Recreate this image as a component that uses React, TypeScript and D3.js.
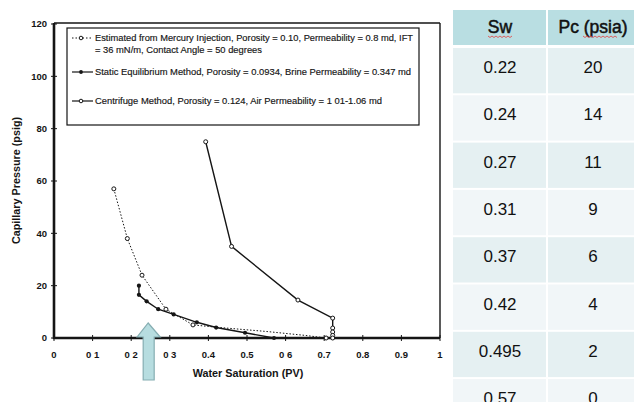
import React from "react";
import * as d3 from "d3";

// Capillary pressure curves (Sw in PV, Pc in psig)
const mercurySw = [0.155, 0.19, 0.228, 0.29, 0.36, 0.43, 0.55, 0.65, 0.705];
const mercuryPc = [57, 38, 24, 11, 5, 4, 2.5, 1, 0];

const staticSw = [0.22, 0.22, 0.24, 0.27, 0.31, 0.37, 0.42, 0.495, 0.57];
const staticPc = [20, 16.5, 14, 11, 9, 6, 4, 2, 0];

const centrifugeSw = [0.393, 0.46, 0.632, 0.722, 0.722, 0.722, 0.722, 0.722];
const centrifugePc = [75, 35, 14.5, 7.6, 3.8, 2.3, 1, 0];

const xTicks = [0, 0.1, 0.2, 0.3, 0.4, 0.5, 0.6, 0.7, 0.8, 0.9, 1];
const xTickLabels = ["0", "0 1", "0 2", "0 3", "0.4", "0.5", "0 6", "0.7", "0.8", "0.9", "1"];
const yTicks = [0, 20, 40, 60, 80, 100, 120];

const legendLines = [
  "Estimated from Mercury Injection, Porosity = 0.10, Permeability = 0.8 md, IFT",
  "= 36 mN/m, Contact Angle = 50 degrees",
  "Static Equilibrium Method, Porosity = 0.0934, Brine Permeability = 0.347 md",
  "Centrifuge Method, Porosity = 0.124, Air Permeability = 1 01-1.06 md",
];

// Table of the static equilibrium readings
const tableHeaders = ["Sw", "Pc (psia)"];
const tableSw = ["0.22", "0.24", "0.27", "0.31", "0.37", "0.42", "0.495", "0.57"];
const tablePc = ["20", "14", "11", "9", "6", "4", "2", "0"];

const W = 634;
const H = 402;
const plot = { left: 54, right: 440, top: 23, bottom: 338 };

const x = d3.scaleLinear().domain([0, 1]).range([plot.left, plot.right]);
const y = d3.scaleLinear().domain([0, 120]).range([plot.bottom, plot.top + 1]);

const zip = (xs: number[], ys: number[]) => xs.map((v, i) => [v, ys[i]] as [number, number]);

const line = d3
  .line<[number, number]>()
  .x((d) => x(d[0]))
  .y((d) => y(d[1]));

const wavy = (x0: number, x1: number, yy: number) => {
  let p = `M${x0},${yy}`;
  for (let xx = x0, k = 0; xx < x1; xx += 2, k++) {
    p += ` L${xx + 2},${yy + (k % 2 === 0 ? 1.5 : 0)}`;
  }
  return p;
};

export default function App() {
  const mercury = zip(mercurySw, mercuryPc);
  const stat = zip(staticSw, staticPc);
  const centri = zip(centrifugeSw, centrifugePc);
  const ink = "#151515";
  const chartFont = "'Liberation Sans', Arial, sans-serif";

  // Table geometry
  const tX0 = 453;
  const tSplit = 547;
  const tX1 = 640;
  const rowTop = 48;
  const rowH = 47.3;

  // Arrow pointing at irreducible saturation
  const ax = x(0.244);
  const arrow = [
    [ax, 323],
    [ax + 12, 337],
    [ax + 6, 337],
    [ax + 6, 380],
    [ax - 5, 380],
    [ax - 5, 337],
    [ax - 11, 337],
  ];

  return (
    <svg
      width={W}
      height={H}
      style={{ position: "fixed", left: 0, top: 0, background: "#fff" }}
      fontFamily={chartFont}
    >
      <rect x={0} y={0} width={W} height={H} fill="#fff" />

      {/* plot frame */}
      <line x1={plot.left} x2={plot.right} y1={plot.top} y2={plot.top} stroke={ink} strokeWidth={1.6} />
      <line x1={plot.right} x2={plot.right} y1={plot.top} y2={plot.bottom} stroke={ink} strokeWidth={1.4} />
      <line x1={plot.left} x2={plot.left} y1={plot.top} y2={plot.bottom + 1} stroke={ink} strokeWidth={2.6} />
      <line x1={plot.left - 1} x2={plot.right} y1={plot.bottom} y2={plot.bottom} stroke={ink} strokeWidth={2.6} />

      {/* ticks */}
      {xTicks.map((t, i) => (
        <g key={"xt" + i}>
          <line x1={x(t)} x2={x(t)} y1={plot.bottom - 3} y2={plot.bottom + 3} stroke={ink} strokeWidth={1} />
          <text x={x(t)} y={358} textAnchor="middle" fontSize={9.5} fontWeight="bold" fill={ink}>
            {xTickLabels[i]}
          </text>
        </g>
      ))}
      {yTicks.map((t) => (
        <g key={"yt" + t}>
          <line x1={plot.left - 3} x2={plot.left + 3} y1={y(t)} y2={y(t)} stroke={ink} strokeWidth={1} />
          <text x={47} y={y(t) + 3.2} textAnchor="end" fontSize={9.5} fontWeight="bold" fill={ink}>
            {t}
          </text>
        </g>
      ))}

      <text x={248} y={377} textAnchor="middle" fontSize={10.8} fontWeight="bold" fill={ink}>
        Water Saturation (PV)
      </text>
      <text
        transform={`translate(20,${(plot.top + plot.bottom) / 2}) rotate(-90)`}
        textAnchor="middle"
        fontSize={10.8}
        fontWeight="bold"
        fill={ink}
      >
        Capillary Pressure (psig)
      </text>

      {/* legend */}
      <rect x={67} y={28} width={352} height={97} fill="#fff" stroke={ink} strokeWidth={1.2} />
      <line x1={72} x2={93} y1={38} y2={38} stroke={ink} strokeWidth={1} strokeDasharray="1.5,2" />
      <circle cx={81} cy={38} r={1.8} fill="#fff" stroke={ink} strokeWidth={1} />
      <line x1={72} x2={93} y1={72} y2={72} stroke={ink} strokeWidth={1.2} />
      <circle cx={81} cy={72} r={1.9} fill={ink} />
      <line x1={72} x2={93} y1={101} y2={101} stroke={ink} strokeWidth={1.2} />
      <circle cx={81} cy={101} r={1.8} fill="#fff" stroke={ink} strokeWidth={1} />
      <g fill={ink} stroke={ink} strokeWidth={0.15} fontSize={8.6}>
        <text x={95} y={41} textLength={318} lengthAdjust="spacingAndGlyphs">
          {legendLines[0]}
        </text>
        <text x={95} y={52.5} textLength={167} lengthAdjust="spacingAndGlyphs">
          {legendLines[1]}
        </text>
        <text x={95} y={75} textLength={316} lengthAdjust="spacingAndGlyphs">
          {legendLines[2]}
        </text>
        <text x={95} y={104} textLength={287} lengthAdjust="spacingAndGlyphs">
          {legendLines[3]}
        </text>
      </g>

      {/* series */}
      <path d={line(mercury) || ""} fill="none" stroke={ink} strokeWidth={1} strokeDasharray="1.5,1.8" />
      {mercury.slice(0, 5).concat([mercury[mercury.length - 1]]).map((d, i) => (
        <circle key={"m" + i} cx={x(d[0])} cy={y(d[1])} r={2} fill="#fff" stroke={ink} strokeWidth={1} />
      ))}

      <path d={line(stat) || ""} fill="none" stroke={ink} strokeWidth={1.4} />
      {stat.map((d, i) => (
        <circle key={"s" + i} cx={x(d[0])} cy={y(d[1])} r={2.1} fill={ink} />
      ))}

      <path d={line(centri) || ""} fill="none" stroke={ink} strokeWidth={1.4} />
      {centri.map((d, i) => (
        <circle key={"c" + i} cx={x(d[0])} cy={y(d[1])} r={2} fill="#fff" stroke={ink} strokeWidth={1} />
      ))}

      {/* arrow */}
      <polygon
        points={arrow.map((p) => p.join(",")).join(" ")}
        fill="#b7dde0"
        stroke="#86aeb2"
        strokeWidth={1.2}
      />

      {/* table */}
      <rect x={tX0} y={10} width={tX1 - tX0} height={35} fill="#b9dee2" />
      {tableSw.map((_, i) => (
        <rect
          key={"r" + i}
          x={tX0}
          y={rowTop + i * rowH}
          width={tX1 - tX0}
          height={rowH - 2}
          fill={i % 2 === 0 ? "#e5f0f2" : "#f1f6f8"}
        />
      ))}
      <line x1={tSplit} x2={tSplit} y1={10} y2={H} stroke="#fff" strokeWidth={2} />

      <g fontFamily="'Liberation Sans', Arial, sans-serif" fill="#111">
        <text x={500} y={33} textAnchor="middle" fontSize={17.5} stroke="#111" strokeWidth={0.5}>
          {tableHeaders[0]}
        </text>
        <text x={593} y={33} textAnchor="middle" fontSize={17.5} stroke="#111" strokeWidth={0.5}>
          {tableHeaders[1]}
        </text>
        {tableSw.map((s, i) => (
          <g key={"t" + i}>
            <text x={500} y={73 + i * rowH} textAnchor="middle" fontSize={17}>
              {s}
            </text>
            <text x={593} y={73 + i * rowH} textAnchor="middle" fontSize={17}>
              {tablePc[i]}
            </text>
          </g>
        ))}
      </g>
      <path d={wavy(488, 512, 36)} fill="none" stroke="#e05050" strokeWidth={0.9} />
      <path d={wavy(583, 617, 36)} fill="none" stroke="#e05050" strokeWidth={0.9} />
    </svg>
  );
}
